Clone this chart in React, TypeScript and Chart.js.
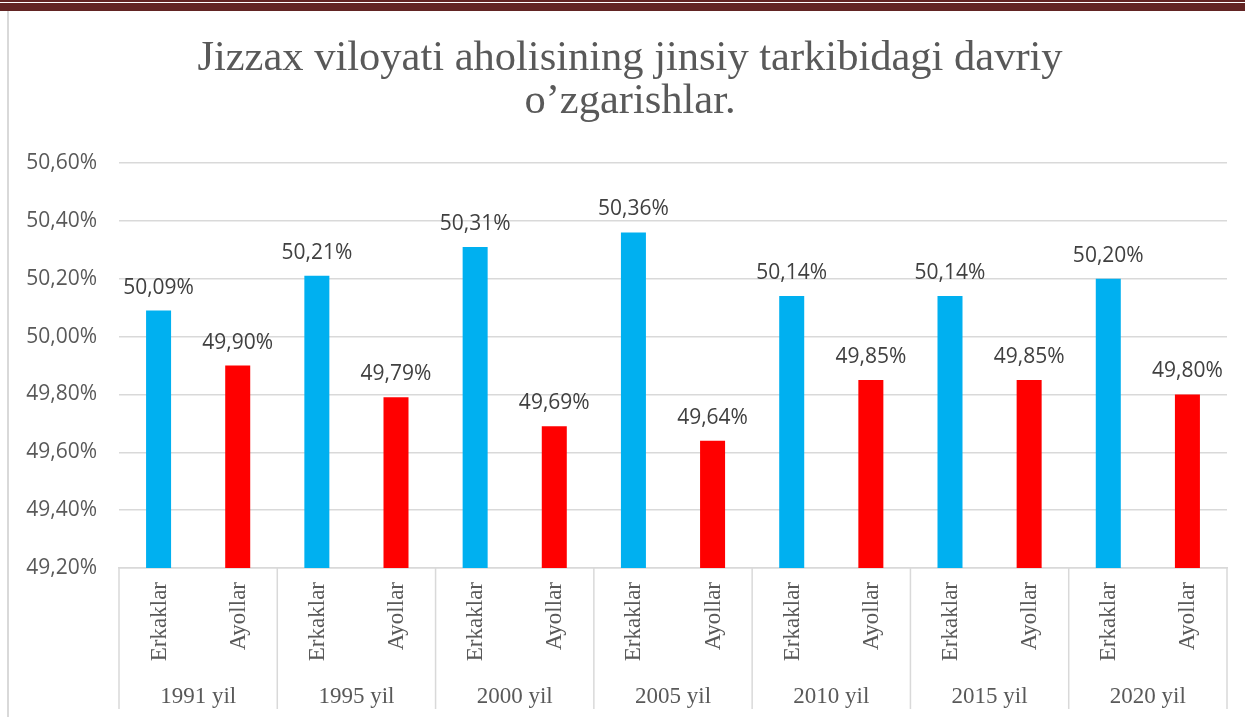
import React, { useEffect, useRef } from "react";
import { Chart, registerables } from "chart.js";

Chart.register(...registerables);

const years = ["1991 yil", "1995 yil", "2000 yil", "2005 yil", "2010 yil", "2015 yil", "2020 yil"];
const seriesNames = ["Erkaklar", "Ayollar"];
const erkaklar = [50.09, 50.21, 50.31, 50.36, 50.14, 50.14, 50.2];
const ayollar = [49.9, 49.79, 49.69, 49.64, 49.85, 49.85, 49.8];
const titleLines = ["Jizzax viloyati aholisining jinsiy tarkibidagi davriy", "o\u2019zgarishlar."];
const yMin = 49.2;
const yMax = 50.6;
const yStep = 0.2;

const BLUE = "#00B0F0";
const RED = "#FF0000";
const GRID = "#D9D9D9";
const SERIF = "'Liberation Serif', 'Times New Roman', serif";
const SANS = "'Open Sans', 'Noto Sans', sans-serif";

const fmt = (v: number) => v.toFixed(2).replace(".", ",") + "%";

const labels: string[] = [];
const values: number[] = [];
const colors: string[] = [];
years.forEach((_, i) => {
  labels.push(seriesNames[0]);
  values.push(erkaklar[i]);
  colors.push(BLUE);
  labels.push(seriesNames[1]);
  values.push(ayollar[i]);
  colors.push(RED);
});

const X_AXIS_HEIGHT = 149;
const Y_AXIS_WIDTH = 110;

const customPlugin = {
  id: "customLabels",
  afterDatasetsDraw(chart: any) {
    const ctx = chart.ctx;
    const meta = chart.getDatasetMeta(0);
    ctx.save();
    ctx.fillStyle = "#404040";
    ctx.font = `21px ${SANS}`;
    ctx.textAlign = "center";
    ctx.textBaseline = "alphabetic";
    meta.data.forEach((bar: any, i: number) => {
      ctx.fillText(fmt(values[i]), bar.x, bar.y - 17);
    });
    ctx.restore();
  },
  afterDraw(chart: any) {
    const ctx = chart.ctx;
    const xs = chart.scales.x;
    const area = chart.chartArea;
    const bottom = area.bottom;
    const lineEnd = bottom + 141;
    ctx.save();
    // title
    ctx.fillStyle = "#595959";
    ctx.font = `42.5px ${SERIF}`;
    ctx.textAlign = "center";
    ctx.textBaseline = "alphabetic";
    titleLines.forEach((t, i) => {
      ctx.fillText(t, 621, 59 + i * 43);
    });
    // separators
    ctx.strokeStyle = GRID;
    ctx.lineWidth = 1.5;
    const bounds: number[] = [area.left];
    for (let g = 1; g < years.length; g++) {
      bounds.push((xs.getPixelForValue(2 * g - 1) + xs.getPixelForValue(2 * g)) / 2);
    }
    bounds.push(area.right);
    bounds.forEach((bx) => {
      ctx.beginPath();
      ctx.moveTo(bx, bottom);
      ctx.lineTo(bx, lineEnd);
      ctx.stroke();
    });
    // rotated category labels
    ctx.fillStyle = "#595959";
    ctx.font = `23px ${SERIF}`;
    labels.forEach((lab, i) => {
      const x = xs.getPixelForValue(i);
      ctx.save();
      ctx.translate(x + 1, bottom + 14);
      ctx.rotate(-Math.PI / 2);
      ctx.textAlign = "right";
      ctx.textBaseline = "middle";
      ctx.fillText(lab, 0, 0);
      ctx.restore();
    });
    // group labels
    ctx.textAlign = "center";
    ctx.textBaseline = "alphabetic";
    years.forEach((y, g) => {
      const cx = (bounds[g] + bounds[g + 1]) / 2;
      ctx.fillText(y, cx, bottom + 135);
    });
    ctx.restore();
  },
};

export default function App() {
  const ref = useRef<HTMLCanvasElement | null>(null);
  useEffect(() => {
    document.body.style.margin = "0";
    if (!ref.current) return;
    const chart = new Chart(ref.current, {
      type: "bar",
      data: {
        labels,
        datasets: [
          {
            data: values,
            backgroundColor: colors,
            borderWidth: 0,
            categoryPercentage: 1,
            barPercentage: 0.316,
          },
        ],
      },
      options: {
        animation: false,
        responsive: false,
        maintainAspectRatio: false,
        layout: { padding: { left: 0, right: 18, top: 152, bottom: 0 } },
        plugins: {
          legend: { display: false },
          tooltip: { enabled: false },
          title: { display: false },
        },
        scales: {
          x: {
            ticks: { display: false },
            grid: { display: false },
            border: { display: true, color: GRID, width: 1.5 },
            afterFit: (s: any) => {
              s.height = X_AXIS_HEIGHT;
            },
          },
          y: {
            min: yMin,
            max: yMax,
            ticks: {
              stepSize: yStep,
              padding: 22,
              color: "#595959",
              font: { family: SANS, size: 21 },
              callback: (v: any) => fmt(Number(v)),
            },
            grid: { color: GRID, lineWidth: 1.5, drawTicks: false },
            border: { display: false },
            afterFit: (s: any) => {
              s.width = Y_AXIS_WIDTH;
            },
          },
        },
      },
      plugins: [customPlugin],
    });
    (document as any).fonts?.ready?.then(() => chart.update());
    return () => chart.destroy();
  }, []);

  return (
    <div style={{ position: "fixed", left: 0, top: 0, width: 1245, height: 717, background: "#fff", overflow: "hidden" }}>
      <div style={{ position: "absolute", left: 0, top: 0, width: 1245, height: 1.5, background: "#622423" }} />
      <div style={{ position: "absolute", left: 0, top: 3, width: 1245, height: 8, background: "#622423" }} />
      <div style={{ position: "absolute", left: 7, top: 11, width: 1.5, height: 706, background: GRID }} />
      <canvas ref={ref} width={1236} height={706} style={{ position: "absolute", left: 9, top: 11, width: 1236, height: 706 }} />
    </div>
  );
}
